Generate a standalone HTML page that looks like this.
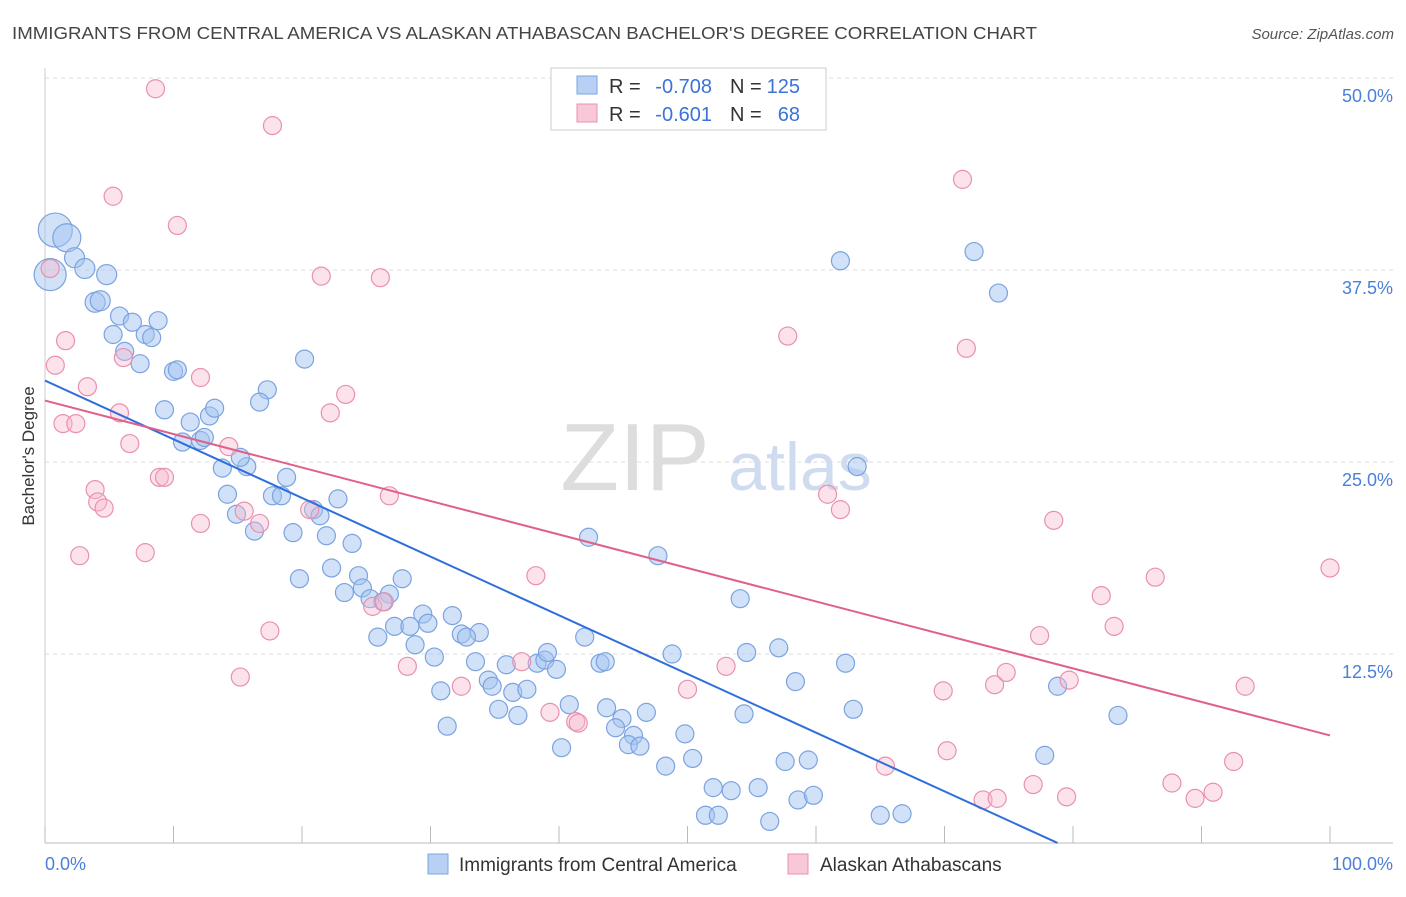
<!DOCTYPE html>
<html><head><meta charset="utf-8"><style>
body{margin:0;background:#fff;font-family:"Liberation Sans",sans-serif;}
svg text{font-family:"Liberation Sans",sans-serif;}
</style></head><body>
<svg id="chart" width="1406" height="892">
<text x="12" y="39" font-size="17.5" fill="#444" textLength="1025" lengthAdjust="spacingAndGlyphs">IMMIGRANTS FROM CENTRAL AMERICA VS ALASKAN ATHABASCAN BACHELOR'S DEGREE CORRELATION CHART</text>
<text x="1394" y="39" font-size="15" fill="#555" font-style="italic" text-anchor="end">Source: ZipAtlas.com</text>
<text x="34" y="456" font-size="17" fill="#333" text-anchor="middle" transform="rotate(-90 34 456)">Bachelor's Degree</text>
<g><text x="635" y="490" font-size="96" fill="#ddd" font-family="Liberation Serif" text-anchor="middle">ZIP</text><text x="800" y="490" font-size="68" fill="#cfdcf0" text-anchor="middle">atlas</text></g>
<g id="grid"></g><g id="ptsB"></g><g id="ptsP"></g><g id="lines"></g>
<g>
<rect x="551" y="68" width="275" height="62" fill="#fff" stroke="#ccc"/>
<rect x="577" y="76" width="20" height="18" fill="#b8d0f4" stroke="#7ba3e0"/>
<rect x="577" y="104" width="20" height="18" fill="#f8c8d6" stroke="#e990ae"/>
<text x="609" y="93" font-size="20" fill="#333">R =</text>
<text x="712" y="93" font-size="20" fill="#3b73d6" text-anchor="end">-0.708</text>
<text x="730" y="93" font-size="20" fill="#333">N =</text>
<text x="800" y="93" font-size="20" fill="#3b73d6" text-anchor="end">125</text>
<text x="609" y="121" font-size="20" fill="#333">R =</text>
<text x="712" y="121" font-size="20" fill="#3b73d6" text-anchor="end">-0.601</text>
<text x="730" y="121" font-size="20" fill="#333">N =</text>
<text x="800" y="121" font-size="20" fill="#3b73d6" text-anchor="end">68</text>
</g>
<g>
<rect x="428" y="854" width="20" height="20" fill="#b8d0f4" stroke="#7ba3e0"/>
<text x="459" y="871" font-size="19" fill="#333">Immigrants from Central America</text>
<rect x="788" y="854" width="20" height="20" fill="#f8c8d6" stroke="#e990ae"/>
<text x="820" y="871" font-size="19" fill="#333">Alaskan Athabascans</text>
</g>
</svg>
<script>
const yTicks=[12.5,25,37.5,50];
const yTickLabels=["12.5%","25.0%","37.5%","50.0%"];
const blueX=[0.8,1.7,0.4,2.3,3.1,4.8,3.9,4.3,5.8,6.8,8.8,5.3,7.8,8.3,6.2,7.4,10.0,10.3,20.2,9.3,11.3,12.8,13.2,17.3,16.7,10.7,12.1,12.4,13.8,15.7,15.2,18.8,14.2,17.7,18.4,14.9,20.9,21.4,22.8,16.3,19.3,21.9,23.9,19.8,22.3,24.4,27.8,24.7,23.3,25.3,26.8,26.3,29.4,31.7,27.2,28.4,29.8,25.9,32.4,33.8,28.8,30.3,32.8,33.5,35.9,38.3,38.9,39.1,39.8,42.0,42.3,43.2,43.6,47.7,48.8,54.1,54.6,57.1,30.8,34.5,34.8,36.4,37.5,35.3,36.8,40.8,43.7,44.9,46.8,31.3,44.4,45.8,45.4,46.3,40.2,49.8,48.3,50.4,54.4,58.4,62.9,62.3,52.0,53.4,55.5,57.6,59.4,58.6,59.8,51.4,52.4,56.4,65.0,66.7,61.9,72.3,74.2,63.2,78.8,77.8,83.5];
const blueY=[40.1,39.6,37.2,38.3,37.6,37.2,35.4,35.5,34.5,34.1,34.2,33.3,33.3,33.1,32.2,31.4,30.9,31.0,31.7,28.4,27.6,28.0,28.5,29.7,28.9,26.3,26.4,26.6,24.6,24.7,25.3,24.0,22.9,22.8,22.8,21.6,21.9,21.5,22.6,20.5,20.4,20.2,19.7,17.4,18.1,17.6,17.4,16.8,16.5,16.1,16.4,15.9,15.1,15.0,14.3,14.3,14.5,13.6,13.8,13.9,13.1,12.3,13.6,12.0,11.8,11.9,12.1,12.6,11.5,13.6,20.1,11.9,12.0,18.9,12.5,16.1,12.6,12.9,10.1,10.8,10.4,10.0,10.2,8.9,8.5,9.2,9.0,8.3,8.7,7.8,7.7,7.2,6.6,6.5,6.4,7.3,5.2,5.7,8.6,10.7,8.9,11.9,3.8,3.6,3.8,5.5,5.6,3.0,3.3,2.0,2.0,1.6,2.0,2.1,38.1,38.7,36.0,24.7,10.4,5.9,8.5];
const blueSize=[17,14,16,10,10,10,10,10,9,9,9,9,9,9,9,9,9,9,9,9,9,9,9,9,9,9,9,9,9,9,9,9,9,9,9,9,9,9,9,9,9,9,9,9,9,9,9,9,9,9,9,9,9,9,9,9,9,9,9,9,9,9,9,9,9,9,9,9,9,9,9,9,9,9,9,9,9,9,9,9,9,9,9,9,9,9,9,9,9,9,9,9,9,9,9,9,9,9,9,9,9,9,9,9,9,9,9,9,9,9,9,9,9,9,9,9,9,9,9,9,9];
const pinkX=[8.6,17.7,5.3,10.3,71.4,0.4,21.5,26.1,1.6,0.8,6.1,57.8,71.7,3.3,12.1,23.4,5.8,1.4,2.4,22.2,6.6,14.3,8.9,9.3,3.9,4.1,4.6,26.8,15.5,16.7,20.6,12.1,60.9,61.9,78.5,2.7,7.8,38.2,86.4,100.0,82.2,17.5,25.5,26.4,83.2,77.4,37.1,28.2,15.2,32.4,39.3,41.3,41.5,50.0,53.0,69.9,73.9,74.8,79.7,93.4,70.2,65.4,92.5,76.9,87.7,73.0,74.1,79.5,89.5,90.9];
const pinkY=[49.3,46.9,42.3,40.4,43.4,37.6,37.1,37.0,32.9,31.3,31.8,33.2,32.4,29.9,30.5,29.4,28.2,27.5,27.5,28.2,26.2,26.0,24.0,24.0,23.2,22.4,22.0,22.8,21.8,21.0,21.9,21.0,22.9,21.9,21.2,18.9,19.1,17.6,17.5,18.1,16.3,14.0,15.6,15.9,14.3,13.7,12.0,11.7,11.0,10.4,8.7,8.1,8.0,10.2,11.7,10.1,10.5,11.3,10.8,10.4,6.2,5.2,5.5,4.0,4.1,3.0,3.1,3.2,3.1,3.5];
const blueTrend=[30.3,-0.382];
const pinkTrend=[29.0,-0.218];
const NS="http://www.w3.org/2000/svg";
const X=v=>45+v*12.85, Y=v=>846-v*15.36;
function mk(tag,attrs,parent){const e=document.createElementNS(NS,tag);for(const k in attrs)e.setAttribute(k,attrs[k]);parent.appendChild(e);return e;}
const grid=document.getElementById('grid');
yTicks.forEach((t,i)=>{
 const l=mk('line',{x1:45,x2:1393,y1:Y(t),y2:Y(t),stroke:'#ddd','stroke-dasharray':'4,4'},grid);
 
 
 const tx=mk('text',{x:1393,y:Y(t)+24,'font-size':18,fill:'#4a7fd8','text-anchor':'end'},grid);
 tx.textContent=yTickLabels[i];
 
 
});
mk('line',{x1:45,x2:45,y1:68,y2:843,stroke:'#ccc'},grid);
const ax=mk('line',{x1:45,x2:1393,y1:843,y2:843,stroke:'#bbb'},grid);


for(let i=0;i<=10;i++){mk('line',{x1:X(i*10),x2:X(i*10),y1:826,y2:843,stroke:'#bbb'},grid);}
const x0=mk('text',{x:45,y:870,'font-size':18,fill:'#4a7fd8'},grid);x0.textContent='0.0%';


const x1=mk('text',{x:1393,y:870,'font-size':18,fill:'#4a7fd8','text-anchor':'end'},grid);x1.textContent='100.0%';


const gb=document.getElementById('ptsB');
blueX.forEach((v,i)=>{const c=mk('circle',{cx:X(v),cy:Y(blueY[i]),r:blueSize[i]||9,fill:'rgba(164,196,240,0.5)',stroke:'#7ba3e0','stroke-width':1.2},gb);
 
 });
const gp=document.getElementById('ptsP');
pinkX.forEach((v,i)=>{const c=mk('circle',{cx:X(v),cy:Y(pinkY[i]),r:9,fill:'rgba(247,184,204,0.4)',stroke:'#e990ae','stroke-width':1.2},gp);
 
 });
const gl=document.getElementById('lines');
const bEnd=Math.min(100,(blueTrend[0]-0.2)/(-blueTrend[1]));
const bl=mk('line',{x1:X(0),y1:Y(blueTrend[0]),x2:X(bEnd),y2:Y(blueTrend[0]+blueTrend[1]*bEnd),stroke:'#2f6fdb','stroke-width':2},gl);


const pl=mk('line',{x1:X(0),y1:Y(pinkTrend[0]),x2:X(100),y2:Y(pinkTrend[0]+pinkTrend[1]*100),stroke:'#e0608a','stroke-width':2},gl);


</script>
</body></html>
